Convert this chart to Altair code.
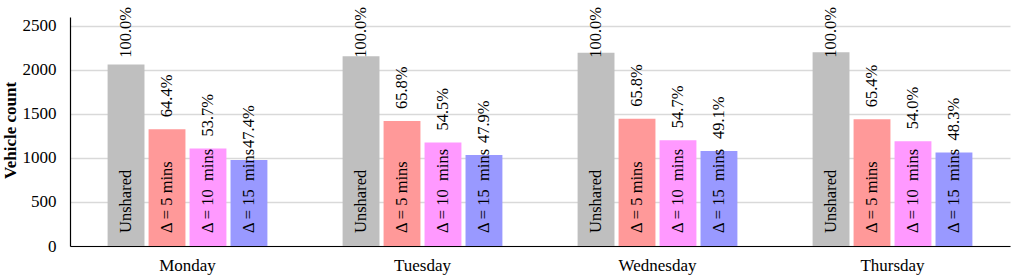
import altair as alt
import pandas as pd

# Daily fleet size for each ride-sharing delay tolerance
days = ["Monday", "Tuesday", "Wednesday", "Thursday"]
scenarios = ["Unshared", "Δ = 5 mins", "Δ = 10\u00a0 mins", "Δ = 15\u00a0 mins"]
colors = ["#BFBFBF", "#FF9999", "#FF99FF", "#9999FF"]

unshared_counts = [2060, 2155, 2195, 2200]
pct_unshared = [100.0, 100.0, 100.0, 100.0]
pct_5 = [64.4, 65.8, 65.8, 65.4]
pct_10 = [53.7, 54.5, 54.7, 54.0]
pct_15 = [47.4, 47.9, 49.1, 48.3]

# Highest anchor for a percentage label so its text stays inside the chart
label_cap = 2000

rows = []
for i, day in enumerate(days):
    for scen, pcts in zip(scenarios, [pct_unshared, pct_5, pct_10, pct_15]):
        rows.append({
            "day": day,
            "scenario": scen,
            "pct": pcts[i],
            "count": unshared_counts[i] * pcts[i] / 100.0,
        })
df = pd.DataFrame(rows)

FONT = "Liberation Serif"

base = alt.Chart(df).encode(
    x=alt.X(
        "day:N",
        sort=days,
        title=None,
        scale=alt.Scale(paddingInner=0.32, paddingOuter=0.16),
        axis=alt.Axis(
            labelAngle=0,
            labelFontSize=17,
            labelColor="black",
            labelPadding=11,
            ticks=False,
            domainColor="black",
            domainWidth=1.2,
        ),
    ),
    xOffset=alt.XOffset("scenario:N", sort=scenarios, scale=alt.Scale(paddingInner=0.1)),
)

bars = base.mark_bar().encode(
    y=alt.Y(
        "count:Q",
        title="Vehicle count",
        scale=alt.Scale(domain=[0, 2500]),
        axis=alt.Axis(
            values=[0, 500, 1000, 1500, 2000, 2500],
            format="d",
            labelFontSize=17,
            labelColor="black",
            labelPadding=14,
            ticks=False,
            tickSize=0,
            gridColor="#D9D9D9",
            gridWidth=1.3,
            domainColor="black",
            domainWidth=1.2,
            titleFontSize=17,
            titleFontWeight="bold",
            titleColor="black",
            titleAngle=270,
            titleAlign="center",
            titleBaseline="middle",
            titleX=-60,
            titleY=113,
        ),
    ),
    color=alt.Color("scenario:N", sort=scenarios,
                    scale=alt.Scale(domain=scenarios, range=colors), legend=None),
)

names = base.mark_text(
    angle=270, align="left", baseline="middle", fontSize=16.5, color="black", dx=13
).encode(
    y=alt.datum(0),
    text="scenario:N",
)

pcts = base.transform_calculate(
    label="format(datum.pct, '.1f') + '%'",
    label_y=f"min(datum['count'], {label_cap})",
).mark_text(
    angle=270, align="left", baseline="middle", fontSize=16.5, color="black", dx=12
).encode(
    y="label_y:Q",
    text="label:N",
)

chart = (
    alt.layer(bars, names, pcts)
    .properties(
        width=940,
        height=229,
        autosize=alt.AutoSizeParams(type="none"),
        padding={"left": 70, "top": 17, "right": 1, "bottom": 30},
    )
    .configure(font=FONT)
    .configure_view(stroke=None)
)

chart.save("out.html", embed_options={"renderer": "svg", "actions": False})
